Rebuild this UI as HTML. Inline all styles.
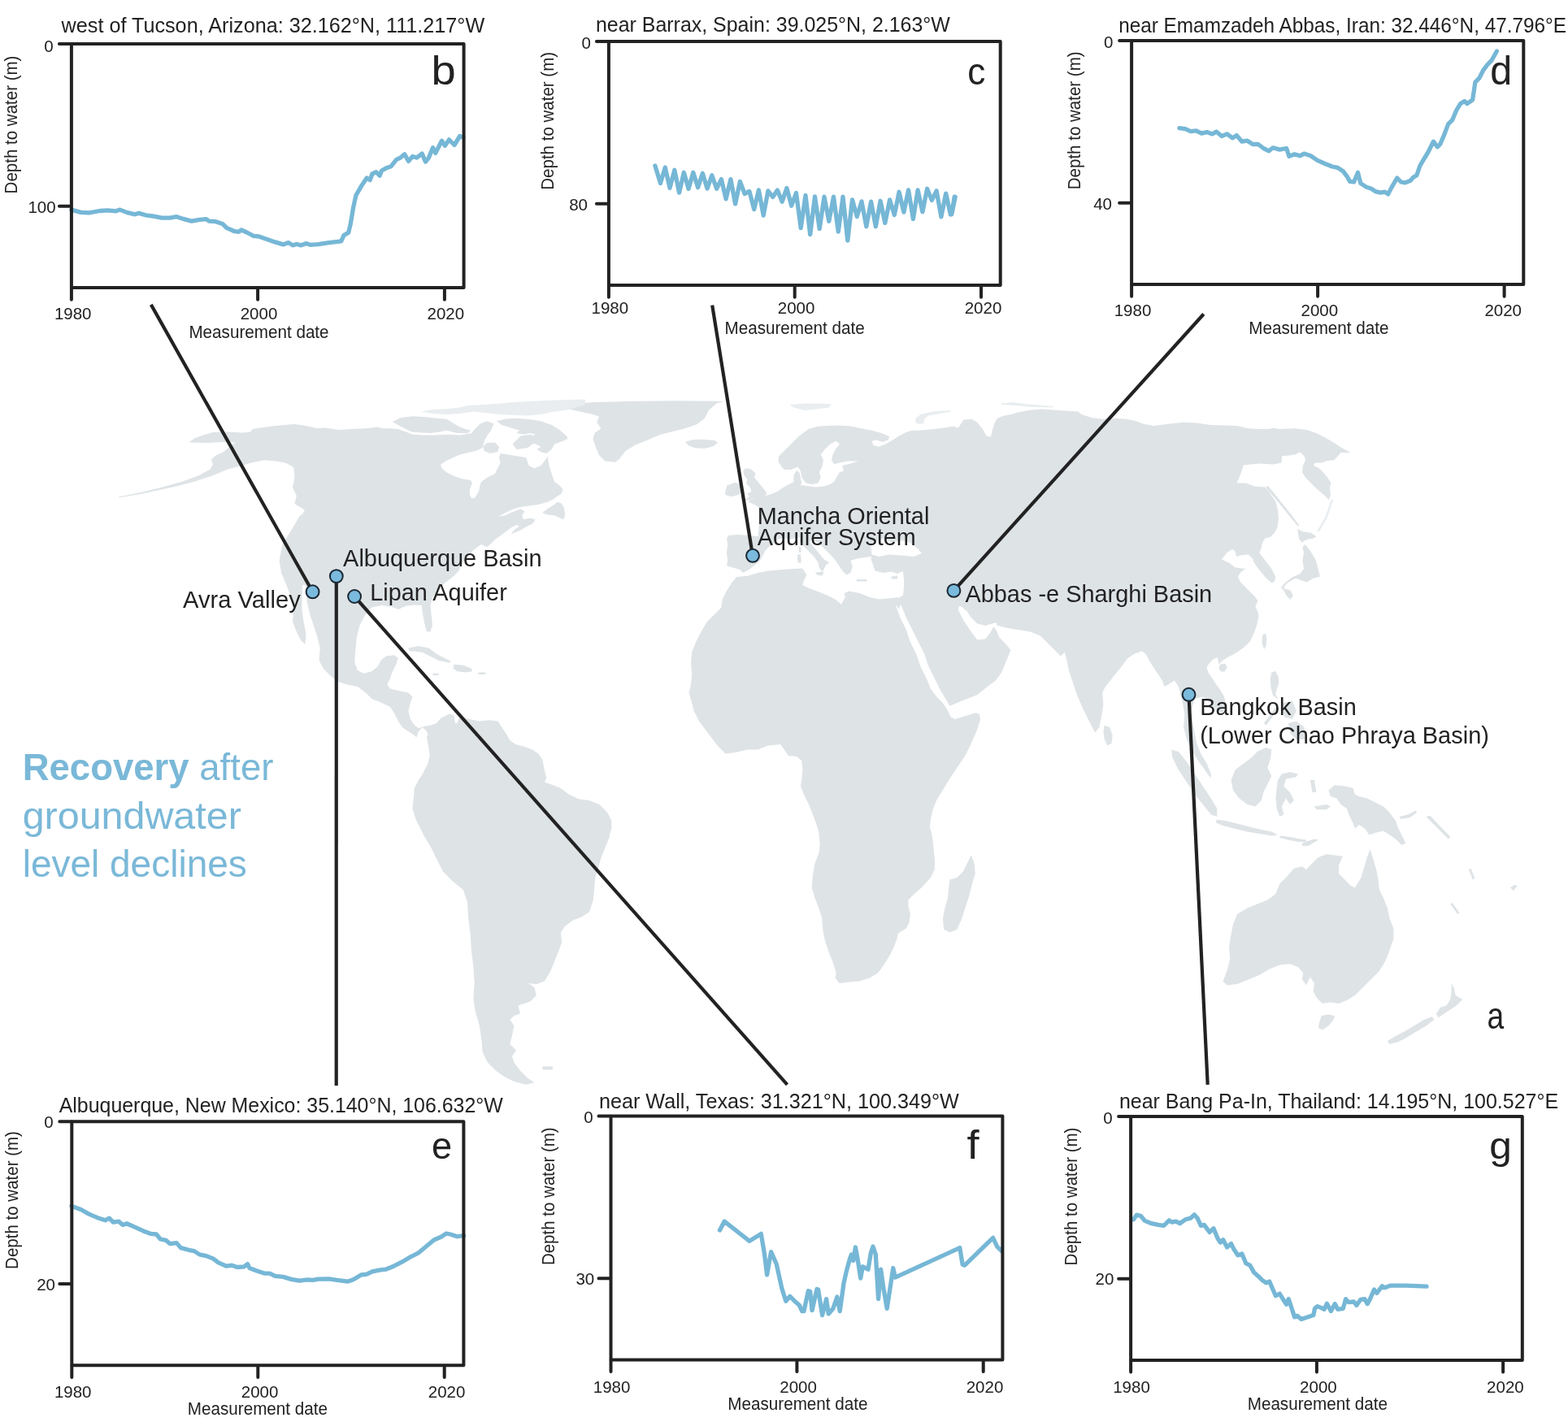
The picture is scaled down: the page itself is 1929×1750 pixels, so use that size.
<!DOCTYPE html>
<html lang="en"><head><meta charset="utf-8">
<title>Recovery after groundwater level declines</title>
<style>
html,body{margin:0;padding:0;background:#fff;}
body{width:1929px;height:1750px;overflow:hidden;}
svg{display:block;}
text{font-family:"Liberation Sans", sans-serif;fill:#222222;}
.tk{font-size:20.5px;}
.ti{font-size:25.2px;}
.lb{font-size:29px;}
.pl{}
.ax{font-size:22px;}
.hd{font-size:46px;fill:#7ab8d8;}
.fr{fill:none;stroke:#222222;stroke-width:4;stroke-linecap:round;stroke-linejoin:round;}
.dl{fill:none;stroke:#76b7d6;stroke-width:5.3;stroke-linejoin:round;stroke-linecap:round;}
.cn{fill:none;stroke:#222222;stroke-width:4.2;}
.dt{fill:#7abadc;stroke:#1b2733;stroke-width:2;}
.land{fill:#dee3e6;stroke:none;}
</style></head><body>
<svg width="1929" height="1750" viewBox="0 0 1929 1750">
<rect width="1929" height="1750" fill="#fff"/>
<g class="land">
<path d="M146.2 611.4 175 605.4 199.9 599.4 224.9 592.4 244.9 584.9 258.7 577.4 261.9 571.2 259.9 565.5 265.4 560.5 274.9 556.2 281.2 550.5 289.9 544.5 274.9 544 254.9 545 232.4 544.5 239.9 539 249.9 535.5 262.4 532 279.9 531.5 297.4 532.5 307.4 531.7 311.1 528 319.9 526.5 337.4 524.2 349.9 523 362.4 522 374.9 523.7 389.8 527 400 526.4 416.6 528.9 433.2 528.1 449.8 527.3 464.7 525.6 469.7 527.3 479.6 527.3 489.6 528.1 499.5 531.4 507.8 534.7 519.4 535.6 532.7 535.6 549.3 534.7 565.9 535.6 580.8 533.1 582.5 529.8 590.8 521.5 599.1 518.2 607.4 521.5 604 529.8 599.1 536.4 595.7 543 594.1 549.7 592.4 551.7 585.8 554.7 575.8 557.1 565.9 559.6 557.6 562.9 549.3 567.1 541.8 572.1 544.3 577 549.3 581.2 559.3 586.2 569.2 589.5 579.2 591.1 580.8 594.5 578.3 601.1 577.5 607.7 580 613.5 584.1 612.7 589.1 604.4 590.8 596.1 592.4 592.8 599.1 587.8 609 582.9 612.3 576.2 615.7 569.6 614 562.9 615.7 558 625.6 559.6 635.6 561.3 647.2 562.9 650.5 572.9 657.1 576.2 665.4 572.9 672.1 564.6 673.7 561.3 675.4 572.9 678.7 582.9 682 592.8 688.6 597.8 692.8 602.8 690.3 607.7 685.3 611.1 680.4 614.4 673.7 617.7 662.1 621 648.8 622.7 638.9 624.3 628.9 627.6 619 632.6 612.3 635.9 620.6 634.6 632.2 629.6 640.5 626.3 645.5 629.3 642.2 634.3 643.9 639.3 652.2 637.6 658.8 639.3 655.5 644.2 648.8 647.5 640.5 652.5 632.2 655.8 628.9 657.5 632.2 652.5 638.9 647.5 635.6 645.9 628.9 649.2 622.3 654.2 615.7 659.2 609 664.1 604 669.1 599.1 673.3 591.9 669.9 581.9 677.4 574.5 687.4 567 694.9 564.5 702.4 557 709.9 547 717.4 539.5 724.9 532 734.9 529.5 744.9 530.7 757.4 532 769.8 529.5 777.3 524.9 777.5 522.4 767.5 519.9 755 518.7 745 509.9 744.5 499.9 745.5 489.9 750 482.4 747 469.9 745 457.4 747.5 448.7 757.5 442.4 770 438.7 785 437.4 800 436.2 815 439.9 825 447.4 828.7 457.4 826.2 464.9 820 468.7 812.5 474.9 807.5 484.9 806.2 489.9 810 487.4 817.5 482.4 827.5 479.9 835 476.2 842.4 479.9 847.4 489.9 849.9 502.4 852.4 507.4 857.4 504.9 864.9 502.4 874.9 504.9 884.9 509.9 892.4 514.9 896.2 522.4 893.7 529.9 892.4 537.4 889.9 532.4 899.9 529.9 909.9 527.4 907.4 524.9 899.9 519.9 894.9 514.9 899.9 512.4 907.4 509.9 904.9 502.4 899.9 494.9 894.9 489.9 887.4 484.9 877.4 479.9 869.9 469.9 864.9 457.4 859.9 449.9 852.4 439.9 844.9 427.5 842.4 415 838.7 407.5 832.5 397.5 822.5 392.5 812.5 393.7 797.5 390 782.5 385 767.5 381 755 377.5 740 376.5 728 375.5 720 372 720 371.5 735 371.5 750 373.5 765 376.5 780 375.5 793 370 788 365 778 360 765 361 750 358 735 352.4 719.9 346.1 704.9 343.6 689.9 347.4 669.9 359.9 649.9 368.6 634.9 372.4 632.4 374.9 627.4 362.4 619.9 364.9 609.9 359.9 599.9 362.4 587.4 361.1 574.9 352.4 569.9 339.9 567.4 324.9 566.2 307.4 569.9 294.9 573.7 279.9 577.4 262.4 584.9 239.9 592.4 212.4 599.4 175 607.4 146.2 612.4ZM482.9 519 492.9 514 507.8 512.3 524.4 513.2 537.7 514.8 549.3 515.7 555.9 519.8 564.2 524.8 572.5 528.1 579.2 529.8 575.8 533.1 562.6 533.1 549.3 529.8 541 531.4 529.4 533.1 516.1 532.3 506.2 531.4 499.5 528.1 489.6 523.1ZM610.7 518.2 620.6 515.7 632.2 514.8 648.8 515.7 665.4 518.2 678.7 523.1 687 528.1 696.9 536.4 698.6 539.7 692 543 682 546.4 678.7 553 672.1 558 665.4 556.3 660.4 553 665.4 549.7 658.8 546.4 648.8 543 653.8 538.1 658.8 534.7 652.2 533.1 643.9 534.7 635.6 533.1 638.9 529.8 628.9 526.4 617.3 523.1ZM667.1 631 673.7 626 682 621 685.3 617.7 690.3 619.3 693.6 624.3 695.3 632.6 693.6 639.3 688.6 637.6 682 634.3 673.7 633.4ZM699.4 497.5 731.9 495 781.8 493.7 831.8 493.2 891.8 493.7 881.8 496.2 871.8 505 866.8 515 856.8 522.5 841.8 527.5 831.8 530 811.8 535 794.3 542.5 781.8 547.5 769.4 555 761.9 565 756.9 568.7 744.4 567.4 736.9 560 731.9 547.5 729.4 540 731.9 532.5 739.4 527.5 734.4 520 736.9 512.5 729.4 510 706.9 505 696.9 502.5ZM843.1 543.7 851.8 541.2 864.3 540.7 879.3 542 883 545 876.8 549.5 866.8 552 854.3 551.2 846.8 548ZM502.4 797.5 514.9 795 527.4 797.5 537.4 805 547.4 810 554.9 813.7 552.4 815.5 539.9 813 529.9 808 519.9 803 509.9 801.5 503.7 801.5ZM558.6 817.5 569.9 818.7 579.9 822.5 581.1 826.2 572.4 827.5 562.4 826.2 557.4 822.5ZM588.6 827.5 597.4 827.5 597.4 830 588.6 830ZM532.4 828.7 539.9 828.7 539.9 831 532.4 831ZM524.9 907.4 529.9 894.9 537.4 889.4 542.4 883.7 552.4 878.7 558.6 879.9 559.9 889.9 562.4 889.9 564.9 882.4 577.4 884.9 589.9 887.4 602.4 886.2 612.4 887.4 617.4 894.9 622.4 902.4 627.4 911.2 634.8 916.2 644.8 918.7 654.8 922.4 662.3 927.4 667.3 934.9 669.8 947.4 672.3 957.4 669.8 962.4 677.3 964.9 689.8 969.9 699.8 977.4 712.3 983.6 724.8 984.9 737.3 989.9 747.3 999.9 752.3 1009.9 752.3 1019.9 749.8 1027.4 749.8 1030 744.8 1042.5 739.8 1055 736.1 1067.5 732.3 1080 731.1 1095 729.8 1107.5 724.9 1122.5 714.9 1128.7 704.9 1132.4 694.9 1139.9 689.9 1147.4 691.1 1159.9 687.4 1169.9 682.4 1182.4 677.4 1194.9 669.9 1207.4 659.9 1211.2 649.9 1209.9 657.4 1214.9 659.9 1224.9 652.4 1232.4 637.4 1237.4 639.9 1247.4 632.4 1249.9 627.4 1254.9 632.4 1262.4 629.9 1274.9 627.4 1284.9 634.9 1292.4 629.9 1299.9 632.4 1307.4 639.9 1317.4 649.9 1327.3 657.4 1332.3 647.4 1334.8 632.4 1331.1 619.9 1324.8 609.9 1317.4 599.9 1307.4 593.7 1294.9 592.4 1279.9 589.9 1262.4 584.9 1244.9 582.4 1229.9 583.7 1209.9 582.4 1189.9 579.9 1169.9 578.7 1149.9 576.2 1129.9 574.9 1110 569.9 1095 557.4 1085 544.9 1072.5 537.4 1057.5 530 1042.5 522.5 1030 521.2 1027.4 517.4 1019.9 511.2 1007.4 507.4 994.9 508.7 982.4 509.9 969.9 514.9 959.9 519.9 952.4 526.2 939.9 528.7 929.9 527.4 919.9ZM667.4 1312.4 679.9 1312.4 679.9 1316.4 667.4 1316.4ZM894 696.1 895.2 689.9 894 679.9 895.2 669.9 894 662.4 896.5 658.7 906.5 657.9 919 658.7 932.7 659.9 934 644.9 935.2 632.4 932.7 623.7 926.5 619.9 920.2 617.4 922.7 614.9 929 614.4 931.5 609.9 936.5 611.2 944 609.4 951.5 606.9 957 604.4 961.9 600.9 968.9 596.9 976.4 593.2 976.4 584.9 980.2 578.7 983.9 582.4 985.2 589.9 986.4 593.7 984.8 597 993.1 598.1 1003 599.4 1013 598.6 1021.3 596.1 1026.3 592.8 1029.6 586.2 1032.9 581.2 1037.9 579.5 1036.2 572.9 1046.2 570.4 1056.1 567.6 1042.9 567.6 1032.9 569.6 1026.3 571.2 1022.9 566.3 1024.6 559.6 1027.9 553 1032.9 546.4 1030.4 543.9 1027.9 543 1021.3 546.4 1014.7 553 1009.7 559.6 1013 566.3 1011.3 574.6 1008 581.2 1009.7 587.8 1006.4 594.5 999.7 596.1 991.4 594.5 986.4 587.8 984.8 579.5 981.5 574.6 973.2 577.9 964.9 577.9 961.6 574.6 957.4 567.9 958.2 561.3 964.9 554.7 973.2 546.4 983.1 536.4 994.7 528.1 1006.4 524.8 1019.6 524 1032.9 523.5 1046.2 524.5 1059.4 527.3 1072.7 529.8 1084.3 533.1 1094.3 537.2 1092.6 541.4 1086 543.9 1077.7 541.4 1072.7 543 1074.4 548 1081 549.7 1089.3 546.4 1095.9 543 1105.9 536.4 1115.8 531.4 1122.5 529.8 1130.8 529.8 1139.1 528.9 1149 528.1 1162.3 526.4 1172.2 524.8 1178.9 526.4 1182.2 521.5 1185.5 516.5 1195.5 515.7 1202.1 519.8 1208.7 528.1 1213.7 536.4 1218.7 538.1 1220.9 529.8 1223.3 521 1227 514.8 1234.5 511.7 1246.9 509.2 1250 508 1264.9 504.9 1281.5 503.6 1303 504.9 1326.3 506.5 1330.4 509.9 1342.9 514 1356.1 515.7 1372.7 514.8 1386 515.7 1397.6 518.2 1405.9 521.5 1419.2 524 1439.1 521.5 1455.7 519.8 1472.2 520.6 1488.8 523.1 1505.4 523.5 1522 524 1535.3 527.3 1546.9 528.1 1561.4 528.1 1566.4 526.8 1574.7 528.1 1592.9 527.3 1607.8 528.9 1619.4 533.1 1631.1 538.9 1641 544.7 1649.3 550.5 1661.7 557.1 1649.3 557.1 1646 561.3 1641 566.3 1632.7 567.1 1626.1 569.6 1617.8 569.6 1616.1 572.9 1622.8 576.2 1629.4 582.9 1634.4 589.5 1637.7 594.5 1636 599.4 1636.9 609.4 1634.7 615.2 1631.1 611.1 1626.1 606.9 1619.4 601.1 1612.8 594.5 1606.2 587.8 1602 581.2 1602.9 572.9 1606.2 566.3 1604.5 561.3 1599.5 556.6 1592.9 559.6 1586.3 560.5 1577.1 561.3 1576.6 569.6 1566.4 571.6 1549.8 570.6 1529.9 572.2 1526.5 582.9 1521.6 594.5 1533.2 594.5 1543.1 598.6 1556.4 599.4 1563 607.7 1569.7 617.7 1572.2 629.3 1573 639.3 1571.3 649.2 1568 655.8 1563 660.8 1556.4 662.5 1553.1 667.5 1551.4 675.7 1549.3 679.9 1555.9 689 1564.2 699.8 1569.2 709.8 1567.5 716.4 1564.2 717.2 1557.6 711.4 1549.3 701.5 1542.7 692.3 1541 687.4 1536 682.4 1527.7 683.2 1521.1 684.9 1519.4 678.2 1516.1 675.8 1509.5 679.9 1502.9 688.2 1512.8 693.2 1519.4 698.2 1529.4 699.8 1532.7 699.5 1526.1 704.8 1522.8 709.8 1526.1 716.4 1532.7 723 1539.3 729.7 1544.3 734.7 1547.6 739.6 1544.3 746.3 1547.6 752.9 1548.5 759.5 1546 769.5 1542.7 779.4 1537.7 789.4 1531.1 796 1524.4 801 1516.1 806 1509.5 809.3 1504.5 812.6 1499.5 817.6 1497.9 809.3 1492.9 811 1487.9 815.9 1484.6 820.9 1486.3 827.5 1491.2 834.2 1496.2 842.5 1501.2 849.1 1506.2 857.4 1507.8 865.7 1506.2 874 1502.9 880 1504.8 879.9 1499.8 874.9 1492.3 869.9 1487.3 862.4 1479.8 857.4 1469.8 859.9 1467.4 867.4 1464.9 877.4 1467.4 889.9 1469.8 902.4 1472.3 914.9 1477.3 927.4 1484.8 939.9 1489.8 952.4 1489.8 957.4 1487.3 954.9 1482.3 947.4 1474.8 937.4 1467.4 924.9 1459.9 909.9 1456.1 894.9 1457.4 879.9 1454.9 864.9 1452.4 854.9 1449.9 844.9 1444.9 837.4 1437.4 842.4 1432.4 844.9 1429.9 837.4 1424.9 830 1419.9 822.5 1414.9 815 1409.9 805 1404.9 801.2 1394.9 805 1387.4 810 1379.9 820 1369.9 832.5 1359.9 844.9 1356.2 852.4 1357.4 867.4 1354.9 882.4 1352.4 894.9 1347.4 901.2 1346.2 899.9 1339.9 887.4 1332.4 872.4 1324.9 854.9 1319.9 839.9 1314.9 825 1312.4 812.5 1309.9 802.5 1304.9 807.5 1299.9 802.5 1294.9 797.5 1287.4 790 1279.9 782.5 1267.5 777.5 1252.5 775 1237.5 772.5 1226.2 769.5 1226 766.2 1219.8 767.5 1212.3 770 1202.3 767.5 1194.8 760 1189.8 752.5 1182.3 746.2 1179.8 746.2 1178.6 750 1184.8 762.5 1194.8 777.5 1202.3 787.4 1212.3 786.2 1217.3 780 1222.3 771.2 1226 776.2 1229.8 785 1237.3 792.4 1243.5 799.9 1237.3 814.9 1232.3 827.4 1224.8 837.4 1214.8 844.9 1202.3 854.9 1189.8 859.9 1177.3 864.9 1168.6 868.7 1164.8 862.4 1157.3 849.9 1149.8 834.9 1142.3 819.9 1137.3 804.9 1129.8 789.9 1122.3 775 1114.8 760 1109.8 747.5 1107.4 743.7 1106.1 750 1103.6 746.2 1102.4 743.7 1104.9 736.2 1111.1 732.5 1111.8 725 1112.3 715 1111.1 705 1109.8 700 1111.4 702.4 1103.9 706.1 1096.4 703.6 1086.4 704.9 1076.4 702.4 1073.9 694.9 1071.4 687.4 1072.6 684.9 1063.9 686.1 1053.9 687.4 1046.4 689.9 1048.9 697.4 1046.4 704.9 1041.4 707.4 1036.4 702.4 1031.4 694.9 1026.4 687.4 1018.9 679.9 1008.9 669.9 998.9 663.6 996.4 667.4 1002.7 674.9 1008.9 682.4 1013.9 688.6 1020.2 692.4 1016.4 694.9 1013.9 699.9 1011.4 703.6 1007.7 698.6 1006.4 692.4 1001.4 684.9 993.9 677.4 988.9 672.4 983.9 667.4 983.9 661.2 978.9 662.4 971.4 663.6 963.9 662.4 957.7 663.6 954 667.4 946.5 672.4 941.5 677.4 939 682.4 935.2 689.9 929 694.9 921.5 701.1 914 704.9 910.2 701.1 901.5 698.6ZM906.2 710 919.9 708.7 932.4 705 944.9 702.5 959.9 701.2 974.9 700 987.4 699.5 992.4 707.5 988.7 715 987.4 720 994.9 723.7 1004.9 727.5 1017.4 732.5 1027.4 737.5 1034.9 743.7 1039.9 735 1038.6 730 1044.9 727.5 1057.4 730 1069.9 735 1082.4 737.5 1094.9 736.2 1104.9 735 1102.4 746.2 1107.4 760 1114.8 775 1119.8 789.9 1127.3 804.9 1132.3 819.9 1139.8 834.9 1144.8 847.4 1152.3 857.4 1159.8 864.9 1164.8 872.4 1169.8 882.4 1174.8 884.9 1187.3 881.2 1199.8 877.4 1204.8 878.7 1206 884.9 1202.3 897.4 1194.8 914.9 1187.3 929.9 1177.3 944.9 1167.3 959.9 1159.8 972.4 1152.3 984.8 1147.3 997.3 1144.8 1009.8 1143.6 1020.1 1144.9 1020 1147.4 1032.5 1148.6 1045 1149.9 1057.5 1149.9 1070 1144.9 1080 1134.9 1091.2 1124.9 1099.9 1117.4 1107.4 1117.4 1114.9 1119.9 1124.9 1118.6 1134.9 1114.9 1142.4 1104.9 1148.7 1103.6 1154.9 1099.9 1164.9 1094.9 1174.9 1087.4 1187.4 1079.9 1197.4 1069.9 1203.6 1057.4 1207.4 1044.9 1208.6 1032.4 1209.9 1027.4 1203.6 1028.7 1197.4 1024.9 1184.9 1019.9 1172.4 1014.9 1157.4 1012.4 1144.9 1011.2 1129.9 1007.4 1117.4 1002.4 1104.9 998.7 1092.5 999.9 1077.5 1002.4 1062.5 1007.4 1050 1008.7 1040 1007.4 1025 1006.2 1020.1 1003.7 1012.3 999.9 1002.3 994.9 989.8 989.9 979.8 984.9 967.4 986.2 959.9 987.4 947.4 986.2 936.1 979.9 931.1 969.9 929.9 964.9 922.4 959.9 916.1 944.9 917.4 932.4 922.4 919.9 922.4 905 926.1 892.5 927.4 882.5 917.4 875 907.4 867.5 897.4 860 887.4 853.7 874.9 851.2 864.9 847.5 852.4 850 842.4 851.2 829.9 850 814.9 851.2 802.4 856.2 789.9 862.5 777.5 870 765 880 755 887.5 747.5 888.7 737.5 893.7 727.5 900 717.5ZM1194.8 1052.5 1198.6 1062.5 1199.8 1075 1196.1 1087.5 1192.3 1102.4 1187.4 1117.4 1182.4 1132.4 1177.4 1143.7 1168.6 1147.4 1161.1 1143.7 1159.9 1129.9 1162.4 1117.4 1166.1 1104.9 1167.4 1090 1168.6 1082.5 1177.4 1080 1184.9 1072.5 1189.8 1062.5ZM916.8 576.2 924.3 577.4 929.3 582.4 928 587.4 934.3 594.9 939.3 601.2 943 606.2 941.8 611.2 931.8 613.7 921.8 614.9 915.5 616.2 921.8 611.2 919.3 607.4 924.3 604.9 923 599.9 918 594.9 919.3 589.9 915.5 584.9 914.3 579.9ZM894.3 597.4 904.3 593.7 911.8 596.2 913 602.4 909.3 608.7 899.3 611.2 891.8 608.7 893 602.4ZM1002.7 704.4 1013.9 703.6 1011.4 708.6 1005.2 707.4ZM980.9 682.4 985.2 682.4 985.7 692.4 981.4 692.4ZM982.4 672.4 985.4 672.4 985.4 679.9 982.9 679.9ZM1053.9 713.1 1066.4 713.1 1066.4 715.6 1053.9 715.6ZM1096.4 709.4 1104.4 708.6 1103.9 712.4 1096.9 712.4ZM1557.2 598.1 1560.5 598.6 1574.7 616 1587.9 632.6 1597.9 645.9 1597 647.9 1586.3 635.1 1573 618.5 1558.9 601.9ZM1596.2 650.9 1602.9 654.2 1612.8 655.8 1619.4 660 1616.1 662.5 1607.8 664.1 1601.2 667.5 1597.9 662.5ZM1602.4 673.3 1605.7 670 1612.3 678.2 1619 689.9 1622.3 703.1 1624 709.8 1615.7 711.8 1607.4 716.4 1599.1 713.4 1594.1 711.8 1587.5 715.1 1582.5 718.4 1579.2 723 1580.8 724.7 1587.5 726.4 1590.8 733 1587.5 738 1582.5 733 1579.2 726.4 1575.8 723 1580.8 717.2 1590.8 709.8 1599.1 706.4 1604 699.8 1602.4 689.9 1604 679.9ZM1553.4 781.1 1556.8 779.4 1558.4 786.1 1557.6 794.4 1555.1 799.3 1552.6 791.1ZM1501.2 817.6 1507.8 816.8 1509.5 821.7 1506.2 826.7 1501.2 825.9 1499.5 821.7ZM1564.2 827.5 1569.2 825.9 1572.5 832.5 1573.4 840.8 1570.9 847.5 1569.2 854.1 1572.5 860.7 1565.9 855.7 1563.4 845.8 1562.6 835.8ZM1358.7 892.4 1364.9 894.9 1368.7 904.9 1367.4 914.9 1362.4 917.4 1358.7 909.9 1357.4 899.9ZM1441.1 922.4 1449.9 924.9 1459.9 937.4 1469.8 952.4 1479.8 967.4 1489.8 982.4 1497.3 994.9 1497.3 1004.9 1489.8 1002.4 1479.8 989.9 1469.8 977.4 1459.9 962.4 1449.9 947.4 1442.4 932.4ZM1497 1008.7 1507 1009.9 1522 1013.6 1537 1017.4 1551.9 1021.1 1564.4 1023.6 1571.9 1027.4 1564.4 1028.6 1549.4 1026.1 1534.5 1023.6 1519.5 1019.9 1504.5 1016.1 1495.7 1012.4ZM1574.4 1028.6 1586.9 1029.9 1599.4 1032.4 1606.9 1033.6 1606.9 1036.1 1596.9 1036.1 1584.4 1033.6 1574.4 1031.1ZM1601.9 1037.4 1616.9 1032.4 1621.9 1033.6 1609.4 1041.1 1601.9 1041.1ZM1514.5 959.9 1519.5 947.4 1529.5 939.9 1539.5 932.4 1546.9 924.9 1556.9 919.9 1564.4 922.4 1563.2 932.4 1559.4 944.9 1564.4 954.9 1559.4 964.9 1554.4 974.9 1551.9 984.9 1544.4 992.4 1534.5 989.9 1524.5 982.4 1517 972.4ZM1571.9 959.9 1576.9 952.4 1586.9 949.9 1596.9 952.4 1594.4 956.2 1581.9 958.7 1579.4 967.4 1586.9 974.9 1591.9 984.9 1586.9 989.9 1581.9 982.4 1576.9 992.4 1579.4 1002.4 1574.4 1004.9 1570.7 994.9 1569.4 982.4 1570.7 969.9ZM1611.9 959.9 1616.9 959.9 1619.4 974.9 1614.4 974.9ZM1584.8 889.9 1594.8 887.4 1604.8 894.9 1604.8 909.9 1594.8 909.9 1587.3 902.4ZM1634.4 972.4 1641.9 966.2 1654.4 967.4 1664.4 969.9 1666.9 977.4 1671.9 979.9 1681.9 982.4 1691.9 987.4 1701.9 992.4 1709.4 999.9 1716.9 1009.9 1719.4 1017.4 1724.4 1027.4 1729.4 1037.4 1724.4 1039.9 1716.9 1032.4 1709.4 1027.4 1701.9 1022.4 1691.9 1024.9 1684.4 1027.4 1679.4 1019.9 1671.9 1014.9 1666.9 1019.9 1664.4 1012.4 1659.4 1002.4 1656.9 994.9 1649.4 989.9 1644.4 982.4 1636.9 979.9ZM1721.9 1004.9 1731.9 1002.4 1741.8 997.4 1743.1 999.9 1734.4 1006.2 1723.1 1007.9ZM1504.5 1207.4 1509.5 1194.9 1513.2 1179.9 1512 1164.9 1514.5 1149.9 1517 1137.4 1522 1124.9 1534.5 1117.4 1546.9 1112.4 1559.4 1107.4 1569.4 1099.9 1574.4 1087.5 1584.4 1077.5 1591.9 1068.7 1601.9 1066.2 1606.9 1070 1614.4 1062.5 1621.9 1055 1631.9 1051.2 1641.9 1052.5 1651.9 1053.7 1646.9 1065 1646.9 1075 1654.4 1082.5 1661.9 1090 1666.9 1092.5 1674.4 1080 1678.1 1067.5 1681.9 1055 1685.6 1045 1689.4 1057.5 1693.1 1070 1695.6 1082.5 1696.9 1095 1701.9 1104.9 1706.9 1117.4 1709.4 1129.9 1714.4 1142.4 1714.4 1154.9 1709.4 1169.9 1704.4 1182.4 1696.9 1194.9 1686.9 1204.9 1676.9 1214.9 1666.9 1224.9 1656.9 1231.1 1646.9 1234.9 1636.9 1233.6 1626.9 1234.9 1619.4 1227.4 1615.7 1219.9 1616.9 1209.9 1611.9 1202.4 1606.9 1212.4 1601.9 1204.9 1603.2 1197.4 1596.9 1189.9 1586.9 1186.2 1574.4 1187.4 1561.9 1192.4 1549.4 1199.9 1537 1204.9 1522 1211.1 1509.5 1212.4ZM1625.7 1249.9 1634.4 1248.6 1641.9 1249.9 1640.6 1254.9 1634.4 1262.4 1626.9 1267.4 1621.9 1264.9 1623.2 1257.4ZM1785.6 1209.9 1789.3 1217.4 1790.6 1224.9 1799.3 1229.9 1791.8 1237.4 1784.3 1242.4 1776.8 1247.4 1769.3 1252.4 1766.8 1247.4 1771.8 1239.9 1779.3 1237.4 1784.3 1229.9 1785.6 1219.9ZM1761.8 1251.1 1764.3 1254.9 1754.3 1262.4 1741.8 1269.9 1729.4 1277.4 1719.4 1282.4 1709.4 1284.9 1706.9 1281.1 1716.9 1274.9 1729.4 1268.6 1741.8 1261.1 1751.8 1254.9ZM1784.3 1112.4 1786.8 1111.2 1795.6 1123.7 1793.1 1124.9ZM1858 1092.5 1863 1088.7 1866.8 1090.5 1861.8 1096.2ZM594.1 549.7 599.1 544.7 609 544.7 614 549.7 612.3 556.3 602.4 558 595.7 554.7ZM630.6 546.4 640.5 536.4 652.2 534.7 658.8 536.4 655.5 546.4 648.8 551.3 635.6 553ZM1754.3 1004.9 1759.3 1003.7 1784.3 1029.9 1781.8 1032.4ZM1806.8 1069.9 1809.8 1068.9 1814.3 1081.1 1811.8 1082.4ZM1616.9 992.4 1631.9 989.9 1636.9 992.4 1631.9 996.2 1619.4 996.2ZM1554.8 889.9 1569.8 869.9 1572.8 871.9 1557.8 892.4ZM1577.3 864.9 1589.8 862.4 1594.8 874.9 1589.8 884.9 1579.8 882.4Z"/>
<path fill="#e9edef" d="M517.8 506.5 532.7 504.1 549.3 503.2 565.9 501.6 575.8 499.1 590.8 498.2 615.7 496.6 632.2 494.9 648.8 494.1 682 492.4 720 491.6 720 498.2 695.3 504.9 682 506.5 665.4 509.9 648.8 511.5 632.2 510.7 615.7 509.9 599.1 508.2 582.5 506.5 565.9 509 549.3 509.9 532.7 509ZM971.5 498.2 989.8 496.6 1009.7 496.6 1022.9 497.4 1019.6 501.6 1006.4 503.2 989.8 504.9 976.5 501.6ZM1125.8 519.8 1126.6 514.8 1132.4 509.9 1147.4 506.5 1168.9 504.9 1170.6 506.5 1155.7 509 1142.4 511.5 1137.4 515.7 1135.7 521.5 1129.1 521.8ZM1232.1 496.2 1245.8 494.9 1264.4 497.4 1295.5 499.9 1295.5 501.4 1264.4 500.5 1245.8 498.7 1232.1 498ZM1637.7 614.4 1640.2 615.2 1632.7 637.6 1622.8 654.2 1620.3 653.4 1630.2 636.8Z"/>
<path fill="#fff" d="M1072.6 682.4 1071.4 672.4 1078.9 664.9 1088.9 662.4 1096.4 667.4 1108.9 664.9 1118.9 667.4 1128.9 674.9 1133.9 681.1 1123.9 684.9 1108.9 683.6 1093.9 682.4 1081.4 684.9Z"/>
</g>
<g class="cn">
<line x1="185.8" y1="374.9" x2="384.6" y2="728.3"/>
<line x1="876.2" y1="375.6" x2="926" y2="683.8"/>
<line x1="1480.8" y1="386.5" x2="1173.4" y2="726.9"/>
<line x1="413.8" y1="709.1" x2="413.7" y2="1335.9"/>
<line x1="436.1" y1="734" x2="968.5" y2="1334.9"/>
<line x1="1462.5" y1="854.8" x2="1485.7" y2="1334.9"/>
</g>
<g class="dt">
<circle cx="384.6" cy="728.3" r="7.95"/>
<circle cx="413.8" cy="709.1" r="7.95"/>
<circle cx="436.1" cy="734" r="7.95"/>
<circle cx="926" cy="683.8" r="7.95"/>
<circle cx="1173.4" cy="726.9" r="7.95"/>
<circle cx="1462.5" cy="854.8" r="7.95"/>
</g>
<text class="lb" x="422.1" y="697.2" textLength="244.5" lengthAdjust="spacingAndGlyphs">Albuquerque Basin</text>
<text class="lb" x="225.1" y="748" textLength="144.7" lengthAdjust="spacingAndGlyphs">Avra Valley</text>
<text class="lb" x="455.3" y="739.4" textLength="168.5" lengthAdjust="spacingAndGlyphs">Lipan Aquifer</text>
<text class="lb" x="931.8" y="644.5" textLength="211.5" lengthAdjust="spacingAndGlyphs">Mancha Oriental</text>
<text class="lb" x="931.8" y="671.2" textLength="195" lengthAdjust="spacingAndGlyphs">Aquifer System</text>
<text class="lb" x="1187.4" y="741" textLength="303.8" lengthAdjust="spacingAndGlyphs">Abbas -e Sharghi Basin</text>
<text class="lb" x="1476.2" y="879.5" textLength="192.5" lengthAdjust="spacingAndGlyphs">Bangkok Basin</text>
<text class="lb" x="1476.2" y="915.2" textLength="355.7" lengthAdjust="spacingAndGlyphs">(Lower Chao Phraya Basin)</text>
<text class="hd" x="27.7" y="959.6" textLength="308.7" lengthAdjust="spacingAndGlyphs"><tspan font-weight="bold">Recovery</tspan> after</text>
<text class="hd" x="27.7" y="1019.8" textLength="269.1" lengthAdjust="spacingAndGlyphs">groundwater</text>
<text class="hd" x="27.7" y="1079.4" textLength="276.1" lengthAdjust="spacingAndGlyphs">level declines</text>
<text class="pl" x="1829.5" y="1266" font-size="46" textLength="20.7" lengthAdjust="spacingAndGlyphs">a</text>
<g>
<polyline class="dl" points="87.9,258.1 99.5,261.4 109.5,261.8 122.8,259.5 132.7,258.8 142.7,259.8 147.6,258.1 155.9,261.4 165.9,263.8 170.9,262.4 179.2,264.8 189.1,266.1 199.1,268.1 209,268.1 217.3,266.7 225.6,269.4 235.6,272.1 245.5,270.4 253.8,269.7 257.1,272.1 265.4,272.7 273.7,275.4 278.7,280.4 288.6,284.7 293.6,285.3 296.9,283 303.6,286 311.9,290.3 318.5,291 328.5,294.6 338.4,297.9 348.4,300.9 355,298.6 360,301.9 365,300.3 369.9,301.9 376.6,299.6 381.5,301.3 391.5,300.6 404.8,298.6 419.7,296.9 423,289.6 428.7,286.3 431.3,275.4 434.6,255.5 437.9,240.5 444.6,228.9 451.2,219 455.2,221.6 457.9,214 462.8,211.7 467.1,216.3 469.5,210 476.1,206.4 481.1,204.7 487.7,196.4 492.7,194.1 497.7,189.8 502.6,198.4 507.6,192.4 512.6,194.1 519.2,189.1 523.5,199.1 527.5,194.1 532.5,181.8 535.8,188.4 543.5,173.2 547.4,179.2 552.4,171.9 559,178.5 565.7,167.5 570,169.2"/>
<rect class="fr" x="87.9" y="54.1" width="482.7" height="300"/>
<path class="fr" d="M72.9 54.1H86.9M72.9 253.8H86.9M87.9 355.1V368.7M317.1 355.1V368.7M546.9 355.1V368.7"/>
<text class="tk" x="65.7" y="63.7" text-anchor="end">0</text>
<text class="tk" x="68.7" y="262.1" text-anchor="end">100</text>
<text class="tk" x="89.7" y="393.2" text-anchor="middle">1980</text>
<text class="tk" x="318.5" y="393.2" text-anchor="middle">2000</text>
<text class="tk" x="548.3" y="393.2" text-anchor="middle">2020</text>
<text class="ti" x="75.6" y="39.8" textLength="520.6" lengthAdjust="spacingAndGlyphs">west of Tucson, Arizona: 32.162°N, 111.217°W</text>
<text class="ax" x="318.5" y="416" text-anchor="middle" textLength="172.2" lengthAdjust="spacingAndGlyphs">Measurement date</text>
<text class="ax" text-anchor="middle" textLength="169.8" lengthAdjust="spacingAndGlyphs" transform="translate(21.4 153.5) rotate(-90)">Depth to water (m)</text>
<text class="pl" x="530.4" y="103.8" font-size="49.3" textLength="30.2" lengthAdjust="spacingAndGlyphs">b</text>
</g>
<g>
<polyline class="dl" points="805.9,204 812.5,225.6 818.3,206 824,231.4 829.8,209.3 835.6,237.1 841.3,212.3 847.1,232.4 852.8,212.3 858.6,230.6 864.3,213.2 870.1,232 875.8,215.8 881.6,232.2 887.4,220.6 893.1,244.9 898.9,220.6 904.6,250.9 910.4,223.4 916.1,238.5 921.9,235.4 927.7,257.6 933.4,233.9 939.2,265.1 944.9,234.9 950.7,242.4 956.4,234.1 962.2,248.2 967.9,231.4 973.7,253.2 979.5,237.5 985.2,280.7 991,240.4 996.7,288.6 1002.5,241.9 1008.2,281.5 1014,242.2 1019.8,272.2 1025.5,242.2 1031.3,285.1 1037,242.2 1042.8,296 1048.5,245.8 1054.3,266.6 1060,247.9 1065.8,278.7 1071.6,248.2 1077.3,278.7 1083.1,247.3 1088.8,274.5 1094.6,245.9 1100.3,264.5 1106.1,236.3 1111.9,261.1 1117.6,233.9 1123.4,269.5 1129.1,233.9 1134.9,260.7 1140.6,232.3 1146.4,246.4 1152.1,234.8 1157.9,266.8 1163.7,238.1 1169.4,264.1 1175.2,242.2 1170.8,263.8 1174.2,242.2"/>
<rect class="fr" x="748.9" y="51.1" width="481.8" height="300"/>
<path class="fr" d="M733.9 51.1H747.9M733.9 250.8H747.9M748.9 352.1V365.7M977.7 352.1V365.7M1207 352.1V365.7"/>
<text class="tk" x="726.9" y="60.4" text-anchor="end">0</text>
<text class="tk" x="723" y="258.8" text-anchor="end">80</text>
<text class="tk" x="750.3" y="385.5" text-anchor="middle">1980</text>
<text class="tk" x="979.6" y="385.5" text-anchor="middle">2000</text>
<text class="tk" x="1209.5" y="385.5" text-anchor="middle">2020</text>
<text class="ti" x="732.9" y="39.3" textLength="436" lengthAdjust="spacingAndGlyphs">near Barrax, Spain: 39.025°N, 2.163°W</text>
<text class="ax" x="977.6" y="411" text-anchor="middle" textLength="172.2" lengthAdjust="spacingAndGlyphs">Measurement date</text>
<text class="ax" text-anchor="middle" textLength="169.8" lengthAdjust="spacingAndGlyphs" transform="translate(681.2 148.8) rotate(-90)">Depth to water (m)</text>
<text class="pl" x="1190.3" y="103.8" font-size="46" textLength="22.1" lengthAdjust="spacingAndGlyphs">c</text>
</g>
<g>
<polyline class="dl" points="1450.9,157.6 1458.2,158.6 1464.8,161.6 1471.5,160.9 1478.1,164.2 1484.7,162.6 1491.4,164.9 1496.4,161.9 1503,167.5 1509.6,164.9 1516.3,169.9 1521.2,166.6 1527.9,174.2 1534.5,173.2 1541.2,177.5 1547.8,177.5 1554.4,182.5 1561.1,185.8 1566,181.8 1574.3,184.1 1582.6,182.5 1585.9,192.4 1592.6,189.8 1599.2,191.8 1604.2,189.1 1612.5,191.8 1620.8,197.4 1630.7,201.7 1639,205 1645.7,206.4 1652.3,210.7 1657.3,217.3 1660.6,223.3 1665.6,224 1670.5,212.3 1673.9,225.6 1680.5,229.9 1687.1,232.2 1692.1,235.6 1698.7,237.2 1703.7,236.2 1707.7,238.9 1712,230.6 1718.7,219 1723.6,224 1728.6,224.9 1735.2,222.3 1738.6,218.3 1742.9,215.7 1746.9,204 1751.8,195.7 1756.8,187.5 1763.4,174.2 1768.4,180.8 1771.7,177.5 1776.7,165.9 1781.7,152.6 1786.7,147.6 1791.6,136 1796.6,127.7 1801.6,124.4 1804.9,127.7 1811.6,122.8 1814.9,101.2 1819.8,96.2 1824.8,86.3 1829.8,79.6 1834.8,74.7 1841.4,63"/>
<rect class="fr" x="1392.1" y="50.1" width="482.2" height="300"/>
<path class="fr" d="M1377.1 50.1H1391.1M1377.1 249.8H1391.1M1392.1 351.1V364.7M1621.1 351.1V364.7M1850.6 351.1V364.7"/>
<text class="tk" x="1369.3" y="59" text-anchor="end">0</text>
<text class="tk" x="1368" y="258.1" text-anchor="end">40</text>
<text class="tk" x="1393.5" y="388.9" text-anchor="middle">1980</text>
<text class="tk" x="1623.3" y="388.9" text-anchor="middle">2000</text>
<text class="tk" x="1849.2" y="388.9" text-anchor="middle">2020</text>
<text class="ti" x="1376.2" y="39.8" textLength="550.8" lengthAdjust="spacingAndGlyphs">near Emamzadeh Abbas, Iran: 32.446°N, 47.796°E</text>
<text class="ax" x="1622.4" y="411" text-anchor="middle" textLength="172.2" lengthAdjust="spacingAndGlyphs">Measurement date</text>
<text class="ax" text-anchor="middle" textLength="169.8" lengthAdjust="spacingAndGlyphs" transform="translate(1328.8 148.3) rotate(-90)">Depth to water (m)</text>
<text class="pl" x="1833.2" y="103.8" font-size="49.3" textLength="26.9" lengthAdjust="spacingAndGlyphs">d</text>
</g>
<g>
<polyline class="dl" points="87.9,1484.2 99.5,1488.5 109.5,1494.1 121.1,1499.1 129.4,1501.8 134.4,1499.1 139.3,1504.1 146,1503.1 151,1507.4 155.9,1505.7 165.9,1510.1 175.8,1514.7 185.8,1518.4 192.4,1519 197.4,1525 204,1526.3 209,1530.6 217.3,1529.6 222.3,1535.6 232.2,1538.3 238.9,1539.6 245.5,1543.9 253.8,1545.6 262.1,1548.9 268.7,1553.9 278.7,1558.2 285.3,1557.2 292,1559.5 300.3,1558.8 304.6,1555.5 306.9,1560.5 315.2,1563.8 325.1,1567.1 331.8,1567.1 338.4,1570.4 348.4,1571.4 358.3,1574.4 368.3,1576.1 378.2,1574.8 384.9,1575.4 391.5,1574.1 404.8,1573.8 414.7,1575.4 428,1577.1 434.6,1574.8 444.6,1568.8 451.2,1568.1 457.9,1564.8 467.8,1562.8 474.4,1562.2 484.4,1558.2 494.3,1553.2 504.3,1547.2 514.3,1542.2 524.2,1534 534.2,1525.7 542.5,1522.3 549.1,1518 554.1,1519 562.4,1521.7 570.7,1520.7"/>
<rect class="fr" x="88.3" y="1380.3" width="482.1" height="300"/>
<path class="fr" d="M73.3 1380.3H87.3M73.3 1580H87.3M88.3 1681.3V1694.9M317.3 1681.3V1694.9M546.7 1681.3V1694.9"/>
<text class="tk" x="65.7" y="1388.3" text-anchor="end">0</text>
<text class="tk" x="68" y="1588" text-anchor="end">20</text>
<text class="tk" x="89.7" y="1719.8" text-anchor="middle">1980</text>
<text class="tk" x="319.6" y="1719.8" text-anchor="middle">2000</text>
<text class="tk" x="549.6" y="1719.8" text-anchor="middle">2020</text>
<text class="ti" x="72.7" y="1368.6" textLength="546.1" lengthAdjust="spacingAndGlyphs">Albuquerque, New Mexico: 35.140°N, 106.632°W</text>
<text class="ax" x="316.9" y="1740.9" text-anchor="middle" textLength="172.2" lengthAdjust="spacingAndGlyphs">Measurement date</text>
<text class="ax" text-anchor="middle" textLength="169.8" lengthAdjust="spacingAndGlyphs" transform="translate(21.6 1477) rotate(-90)">Depth to water (m)</text>
<text class="pl" x="530.9" y="1426" font-size="46" textLength="25.1" lengthAdjust="spacingAndGlyphs">e</text>
</g>
<g>
<polyline class="dl" points="885.5,1514 891.2,1503.1 922,1527.3 936.3,1518.4 940.3,1542.2 943.6,1568.8 948.6,1540.6 955.2,1555.5 961.8,1585.4 966.8,1601.3 971.8,1595.3 978.4,1602 983.4,1606.3 986.7,1613.6 989,1613.6 994.3,1588.7 996.7,1589.4 999,1612.6 1005,1586.4 1006.6,1587 1011.6,1618.6 1016.6,1598.6 1019.2,1616.9 1024.9,1610.3 1029.8,1596 1033.2,1613.6 1038.1,1578.7 1041.5,1563.8 1045.4,1549.5 1047.4,1543.9 1049.7,1551.5 1052.4,1534.9 1054.7,1547.2 1058.7,1573.1 1061.4,1558.8 1068,1562.2 1071.3,1542.2 1074,1534 1077.3,1543.9 1080.6,1598.6 1083.6,1562.2 1086.9,1585.4 1091.2,1610.3 1098.8,1560.5 1101.2,1572.1 1180.8,1535.6 1184.1,1556.2 1186.8,1557.2 1221.6,1523.3 1226.6,1534 1232.2,1539.6"/>
<rect class="fr" x="751.5" y="1373.5" width="481.9" height="300"/>
<path class="fr" d="M736.5 1373.5H750.5M736.5 1573.2H750.5M751.5 1674.5V1688.1M980.4 1674.5V1688.1M1209.7 1674.5V1688.1"/>
<text class="tk" x="729.6" y="1382.3" text-anchor="end">0</text>
<text class="tk" x="731.2" y="1581.4" text-anchor="end">30</text>
<text class="tk" x="752.6" y="1713.8" text-anchor="middle">1980</text>
<text class="tk" x="982.1" y="1713.8" text-anchor="middle">2000</text>
<text class="tk" x="1211.5" y="1713.8" text-anchor="middle">2020</text>
<text class="ti" x="736.9" y="1364.1" textLength="442.9" lengthAdjust="spacingAndGlyphs">near Wall, Texas: 31.321°N, 100.349°W</text>
<text class="ax" x="981.4" y="1735.3" text-anchor="middle" textLength="172.2" lengthAdjust="spacingAndGlyphs">Measurement date</text>
<text class="ax" text-anchor="middle" textLength="169.8" lengthAdjust="spacingAndGlyphs" transform="translate(682.1 1472.2) rotate(-90)">Depth to water (m)</text>
<text class="pl" x="1189.4" y="1426.1" font-size="49.3" textLength="15.1" lengthAdjust="spacingAndGlyphs">f</text>
</g>
<g>
<polyline class="dl" points="1394.5,1500.8 1398.5,1495.1 1403.5,1496.5 1408.4,1502.4 1416.7,1505.7 1425,1507.4 1431.7,1508.4 1438.3,1501.8 1441.6,1504.1 1446.6,1503.1 1451.6,1505.7 1458.2,1500.8 1464.8,1499.1 1469.2,1494.8 1473.1,1499.1 1477.4,1508.4 1481.4,1507.4 1488.1,1516.4 1493,1511.7 1498,1524 1501.3,1529 1504.7,1525.7 1509.6,1534.9 1514.6,1530.6 1517.9,1537.3 1522.9,1544.9 1527.9,1542.9 1532.9,1554.9 1537.8,1557.2 1542.8,1566.1 1547.8,1570.4 1552.8,1575.4 1557.7,1578.7 1561.7,1577.1 1566,1587 1569.4,1594.7 1574.3,1592 1579.3,1600.3 1582.6,1605.3 1585.3,1598.6 1588.6,1608.6 1592.6,1620.9 1595.9,1619.2 1600.9,1623.5 1615.8,1618.6 1617.5,1610.3 1620.8,1607.6 1625.8,1609.6 1629.1,1611.3 1632.4,1604.3 1637.4,1613.6 1642.3,1604.6 1645.7,1611.3 1652.3,1610.3 1655.6,1598.6 1658.9,1602.6 1665.6,1602 1668.9,1606.3 1673.9,1599.3 1678.8,1598.6 1682.2,1604.6 1685.5,1598.6 1690.5,1587 1693.8,1591.3 1700.4,1582.7 1703.7,1584.7 1710.4,1582.1 1730.3,1582.1 1755.1,1583.1"/>
<rect class="fr" x="1391.1" y="1374" width="481.7" height="300"/>
<path class="fr" d="M1376.1 1374H1390.1M1376.1 1573.7H1390.1M1391.1 1675V1688.6M1619.9 1675V1688.6M1849.1 1675V1688.6"/>
<text class="tk" x="1368.6" y="1383" text-anchor="end">0</text>
<text class="tk" x="1370.3" y="1581.4" text-anchor="end">20</text>
<text class="tk" x="1392" y="1713.8" text-anchor="middle">1980</text>
<text class="tk" x="1621.9" y="1713.8" text-anchor="middle">2000</text>
<text class="tk" x="1851.9" y="1713.8" text-anchor="middle">2020</text>
<text class="ti" x="1376.9" y="1363.7" textLength="540.2" lengthAdjust="spacingAndGlyphs">near Bang Pa-In, Thailand: 14.195°N, 100.527°E</text>
<text class="ax" x="1620.8" y="1735.3" text-anchor="middle" textLength="172.2" lengthAdjust="spacingAndGlyphs">Measurement date</text>
<text class="ax" text-anchor="middle" textLength="169.8" lengthAdjust="spacingAndGlyphs" transform="translate(1324.8 1472.5) rotate(-90)">Depth to water (m)</text>
<text class="pl" x="1832.2" y="1426.4" font-size="46" textLength="27.6" lengthAdjust="spacingAndGlyphs">g</text>
</g>
</svg>
</body></html>
